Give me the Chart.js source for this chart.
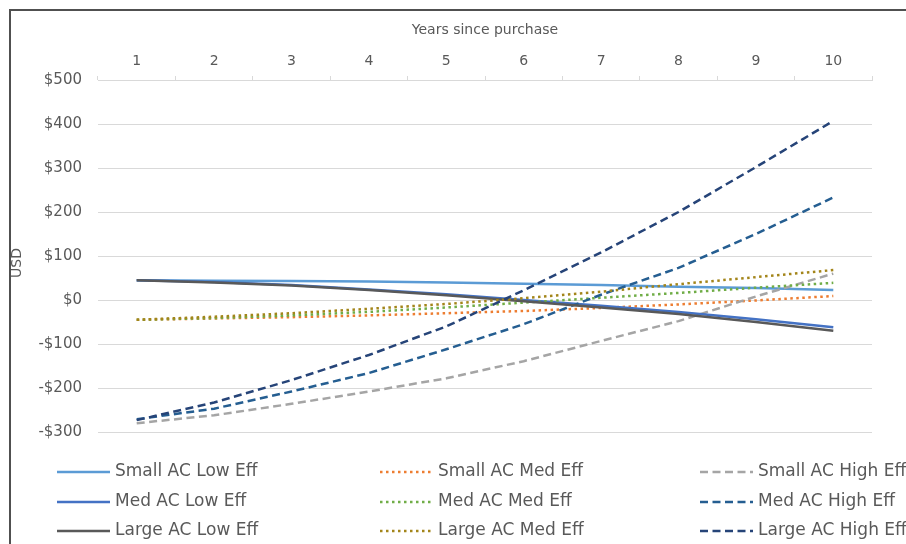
<!DOCTYPE html>
<html lang="en">
<head>
<meta charset="UTF-8" />
<title>AC payback by efficiency</title>
<script src="https://cdn.jsdelivr.net/npm/chart.js"></script>
<style>
  html, body { margin: 0; padding: 0; background: #fff; }
  #wrap { width: 906px; height: 544px; }
</style>
</head>
<body>
<div id="wrap"><canvas id="paybackChart" width="906" height="544"></canvas></div>
<script>
// Net savings vs. purchase cost, by AC size and efficiency
const years = ["1", "2", "3", "4", "5", "6", "7", "8", "9", "10"];

const smallLowEff  = [45, 44, 43, 42, 40, 37, 34, 30, 27, 23];
const smallMedEff  = [-45, -42, -39, -35, -30, -25, -18, -10, -1, 9];
const smallHighEff = [-280, -262, -236, -208, -178, -139, -93, -48, 8, 60];
const medLowEff    = [45, 41, 34, 24, 13, 0, -13, -27, -44, -62];
const medMedEff    = [-45, -41, -35, -27, -17, -6, 5, 16, 28, 39];
const medHighEff   = [-271, -247, -208, -166, -112, -55, 12, 73, 150, 233];
const largeLowEff  = [45, 40, 33, 23, 11, -3, -17, -32, -50, -70];
const largeMedEff  = [-45, -38, -30, -20, -9, 4, 19, 36, 52, 68];
const largeHighEff = [-273, -233, -182, -125, -60, 22, 108, 200, 302, 407];

const SOLID = [];
const DOTS = [2.5, 3.5];
const DASH = [8, 4.5];

const series = [
  { label: "Small AC Low Eff",  data: smallLowEff,  color: "#5B9BD5", dash: SOLID },
  { label: "Small AC Med Eff",  data: smallMedEff,  color: "#ED7D31", dash: DOTS },
  { label: "Small AC High Eff", data: smallHighEff, color: "#A5A5A5", dash: DASH },
  { label: "Med AC Low Eff",    data: medLowEff,    color: "#4472C4", dash: SOLID },
  { label: "Med AC Med Eff",    data: medMedEff,    color: "#70AD47", dash: DOTS },
  { label: "Med AC High Eff",   data: medHighEff,   color: "#255E91", dash: DASH },
  { label: "Large AC Low Eff",  data: largeLowEff,  color: "#595959", dash: SOLID },
  { label: "Large AC Med Eff",  data: largeMedEff,  color: "#A3851A", dash: DOTS },
  { label: "Large AC High Eff", data: largeHighEff, color: "#264478", dash: DASH },
];

const FONT = "'DejaVu Sans', sans-serif";
const TEXT = "#595959";
const GRID = "#D9D9D9";

// outer frame (left + top edges)
const framePlugin = {
  id: "frame",
  afterDraw(chart) {
    const c = chart.ctx;
    c.save();
    c.strokeStyle = "#505050";
    c.lineWidth = 2;
    c.beginPath();
    c.moveTo(10, 544);
    c.lineTo(10, 10);
    c.lineTo(906, 10);
    c.stroke();
    c.restore();
  }
};

// 3-column legend below the plot
const gridLegend = {
  id: "gridLegend",
  afterDraw(chart) {
    const c = chart.ctx;
    const colX = [57, 380, 700];
    const rowY = [472, 502, 531];
    c.save();
    c.font = "17px " + FONT;
    c.textBaseline = "middle";
    c.fillStyle = TEXT;
    chart.data.datasets.forEach((ds, i) => {
      const x = colX[i % 3];
      const y = rowY[Math.floor(i / 3)];
      c.strokeStyle = ds.borderColor;
      c.lineWidth = 2.5;
      c.setLineDash(ds.borderDash);
      c.beginPath();
      c.moveTo(x, y);
      c.lineTo(x + 53, y);
      c.stroke();
      c.setLineDash([]);
      c.fillText(ds.label, x + 58, y);
    });
    c.restore();
  }
};

// "USD" sits a little below the middle of the value axis
const usdLabel = {
  id: "usdLabel",
  afterDraw(chart) {
    const c = chart.ctx;
    c.save();
    c.translate(17, 263);
    c.rotate(-Math.PI / 2);
    c.font = "14px " + FONT;
    c.fillStyle = TEXT;
    c.textAlign = "center";
    c.textBaseline = "middle";
    c.fillText("USD", 0, 0);
    c.restore();
  }
};

const ctx = document.getElementById("paybackChart").getContext("2d");
new Chart(ctx, {
  type: "line",
  data: {
    labels: years,
    datasets: series.map((s, i) => ({
      label: s.label,
      data: s.data,
      borderColor: s.color,
      backgroundColor: s.color,
      borderDash: s.dash,
      borderWidth: 2.5,
      pointRadius: 0,
      tension: 0,
      fill: false,
      order: series.length - i,
    })),
  },
  options: {
    responsive: false,
    animation: false,
    layout: { padding: { left: 0, top: 0, right: 34, bottom: 112 } },
    plugins: {
      legend: { display: false },
      tooltip: { enabled: false },
    },
    scales: {
      x: {
        position: "top",
        offset: true,
        afterFit: (s) => { s.height = 80; },
        grid: {
          offset: true,
          drawOnChartArea: false,
          tickLength: 4,
          color: GRID,
        },
        border: { color: GRID, width: 1 },
        ticks: { color: TEXT, font: { family: FONT, size: 14 }, padding: 6, maxRotation: 0 },
        title: {
          display: true,
          text: "Years since purchase",
          color: TEXT,
          font: { family: FONT, size: 14 },
          padding: { top: 22, bottom: 0 },
        },
      },
      y: {
        min: -300,
        max: 500,
        afterFit: (s) => { s.width = 98; },
        grid: { color: GRID, drawTicks: false, lineWidth: 1 },
        border: { display: false },
        ticks: {
          stepSize: 100,
          padding: 16,
          color: TEXT,
          font: { family: FONT, size: 15 },
          callback: (v) => (v < 0 ? "-$" : "$") + Math.abs(v),
        },
      },
    },
  },
  plugins: [framePlugin, gridLegend, usdLabel],
});
</script>
</body>
</html>
